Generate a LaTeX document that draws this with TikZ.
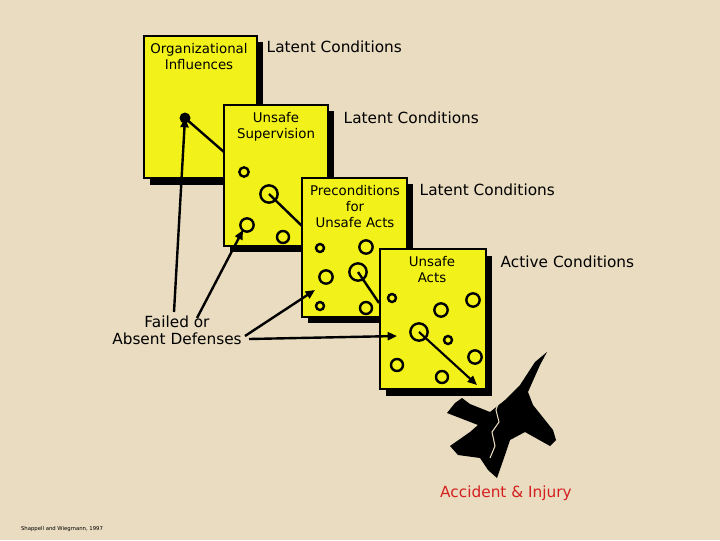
\documentclass[tikz,border=0pt]{standalone}
\usepackage{fontspec}
\setmainfont{DejaVu Sans}
\usetikzlibrary{arrows.meta}
\definecolor{parch}{HTML}{E9DCC0}
\definecolor{cheese}{HTML}{F2F21A}
\definecolor{accred}{HTML}{D42020}
\tikzset{
  layer/.style={draw=black,line width=1.4pt,fill=cheese,inner sep=0pt},
  shadow/.style={fill=black},
  hole/.style={draw=black,line width=1.8pt,fill=cheese},
  lbl/.style={font=\fontsize{10}{12}\selectfont,align=center},
  cond/.style={font=\fontsize{11.5}{13}\selectfont,anchor=west},
  path/.style={line width=1.8pt},
  arr/.style={line width=1.8pt,-{Triangle[length=7pt,width=6pt]}}
}
\begin{document}
\begin{tikzpicture}[x=0.75pt,y=-0.75pt]
\useasboundingbox (0,0) rectangle (720,540);
\fill[parch] (0,0) rectangle (720,540);
% layer 1
\fill[shadow] (150,42) rectangle (263,185);
\draw[layer] (144,36) rectangle (257,178);
\node[lbl] (t1) at (199,57) {Organizational\\Influences};
\node[cond] (c1) at (262,47) {Latent Conditions};
\fill (185,118) circle (5.5);
\coordinate (h1) at (185,118);
\draw[path] (h1) -- (224,152);
% layer 2
\fill[shadow] (230,111) rectangle (334,252);
\draw[layer] (224,105) rectangle (328,246);
\node[lbl] (t2) at (276,127) {Unsafe\\Supervision};
\node[cond] (c2) at (339,118) {Latent Conditions};
\node[hole,circle,minimum size=7pt,inner sep=0pt] (a1) at (244,172) {};
\node[hole,circle,minimum size=13pt,inner sep=0pt] (a2) at (269,194) {};
\draw[path] (a2.center) -- (302,226);
\node[hole,circle,minimum size=10pt,inner sep=0pt] (a3) at (247,225) {};
\node[hole,circle,minimum size=9pt,inner sep=0pt] (a4) at (283,237) {};
% layer 3
\fill[shadow] (308,184) rectangle (413,323);
\draw[layer] (302,178) rectangle (407,317);
\node[lbl] (t3) at (355,207) {Preconditions\\for\\Unsafe Acts};
\node[cond] (c3) at (415,190) {Latent Conditions};
\node[hole,circle,minimum size=6pt,inner sep=0pt] (b1) at (320,248) {};
\node[hole,circle,minimum size=10pt,inner sep=0pt] (b2) at (366,247) {};
\node[hole,circle,minimum size=10pt,inner sep=0pt] (b3) at (326,277) {};
\node[hole,circle,minimum size=13pt,inner sep=0pt] (b4) at (358,272) {};
\draw[path] (b4.center) -- (379,303);
\node[hole,circle,minimum size=6pt,inner sep=0pt] (b5) at (320,306) {};
\node[hole,circle,minimum size=9pt,inner sep=0pt] (b6) at (366,308) {};
% layer 4
\fill[shadow] (386,256) rectangle (492,396);
\draw[layer] (380,249) rectangle (486,389);
\node[lbl] (t4) at (432,270) {Unsafe\\Acts};
\node[cond] (c4) at (496,262) {Active Conditions};
\node[hole,circle,minimum size=6pt,inner sep=0pt] (d1) at (392,298) {};
\node[hole,circle,minimum size=10pt,inner sep=0pt] (d2) at (441,310) {};
\node[hole,circle,minimum size=10pt,inner sep=0pt] (d3) at (473,300) {};
\node[hole,circle,minimum size=13pt,inner sep=0pt] (d4) at (419,332) {};
\node[hole,circle,minimum size=6pt,inner sep=0pt] (d5) at (448,340) {};
\node[hole,circle,minimum size=9pt,inner sep=0pt] (d6) at (397,365) {};
\node[hole,circle,minimum size=10pt,inner sep=0pt] (d7) at (475,357) {};
\node[hole,circle,minimum size=9pt,inner sep=0pt] (d8) at (442,377) {};
\coordinate (tip) at (477,385);
\draw[line width=1.6pt,-{Triangle[length=7pt,width=6pt]}] (d4.center) -- (tip);
% defenses
\node[font=\fontsize{11.5}{13}\selectfont,align=center] (fd) at (177,330) {Failed or\\Absent Defenses};
\coordinate (s1) at (174,312);
\coordinate (s2) at (197,318);
\coordinate (s3) at (245,336);
\coordinate (s4) at (249,339);
\draw[arr] (s1) -- (h1);
\draw[arr] (s2) -- (243,230);
\draw[arr] (s3) -- (315,290);
\draw[arr] (s4) -- (397,336);
% plane
\fill[black] (547,352) -- (540,365) -- (528,392) -- (533,405) -- (553,430) -- (556,440) -- (550,446) -- (525,432) -- (510,440)
  -- (505,455) -- (497,478) -- (488,470) -- (480,458) -- (458,455) -- (450,446) -- (470,432) -- (478,425)
  -- (460,418) -- (447,413) -- (455,403) -- (462,398) -- (470,404) -- (490,412) -- (505,400) -- (520,385) -- (535,362) -- cycle;
\draw[parch,line width=0.8pt] (500,398) -- (496,410) -- (499,422) -- (492,432) -- (495,446) -- (490,458);
\node[font=\fontsize{11.5}{13}\selectfont,text=accred] (acc) at (506,493) {Accident \& Injury};
\node[font=\fontsize{4}{5}\selectfont] (ref) at (62,529) {Shappell and Wiegmann, 1997};
\end{tikzpicture}
\end{document}
